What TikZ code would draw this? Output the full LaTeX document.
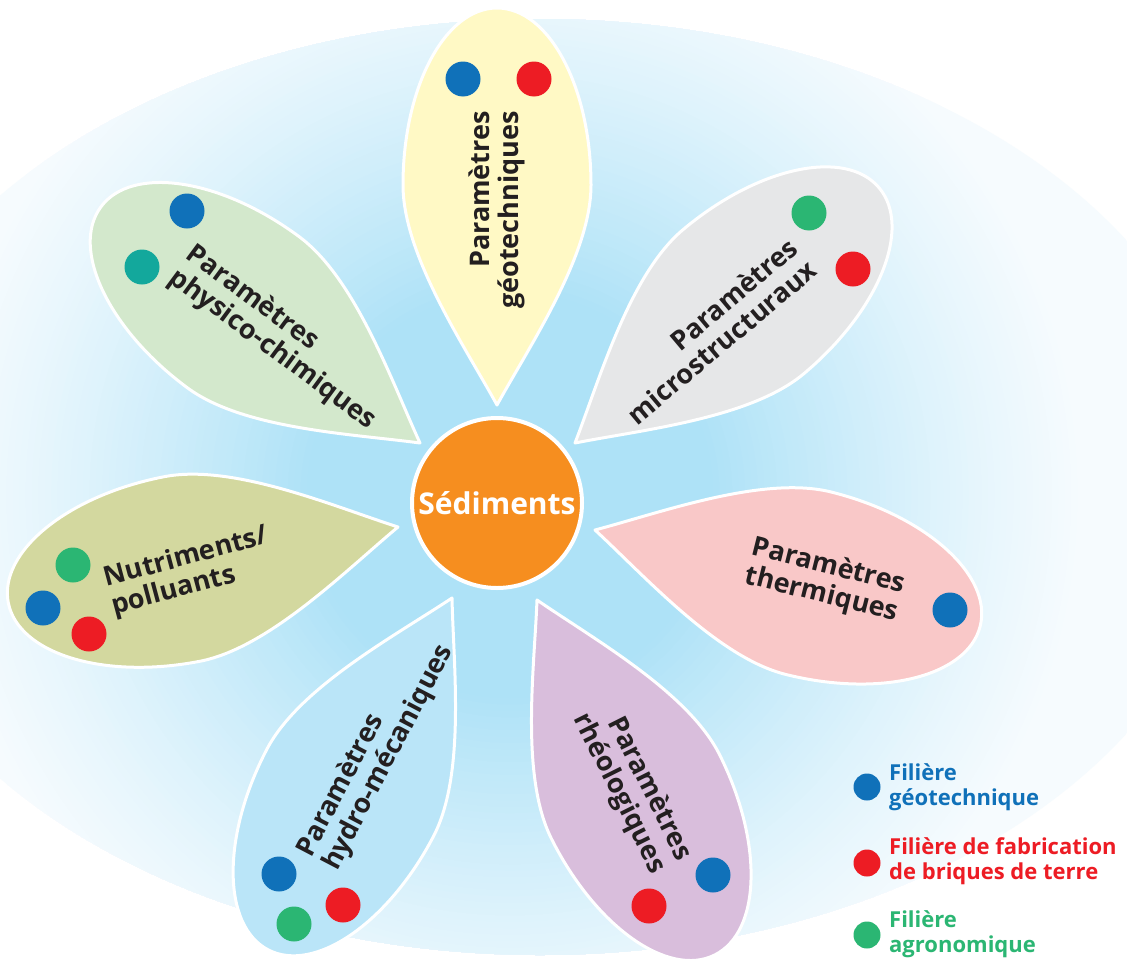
\documentclass[tikz,border=0pt]{standalone}
\usepackage{fontspec}
\setmainfont{Open Sans}
\definecolor{bgA}{HTML}{AEE2F7}
\definecolor{bgC}{HTML}{F6FBFE}
\definecolor{txt}{HTML}{231F20}
\definecolor{cblue}{HTML}{1071B9}
\definecolor{cred}{HTML}{ED1C24}
\definecolor{cgreen}{HTML}{2BB673}
\definecolor{cteal}{HTML}{13A89C}
\definecolor{corange}{HTML}{F68E1F}
\definecolor{pyellow}{HTML}{FFF9C5}
\definecolor{pgray}{HTML}{E6E7E8}
\definecolor{ppink}{HTML}{F9C8C8}
\definecolor{ppurple}{HTML}{D9BEDC}
\definecolor{pblue}{HTML}{BAE5F8}
\definecolor{polive}{HTML}{D3D89F}
\definecolor{pgreen}{HTML}{D3E8CC}
\newcommand\drawpetal[4]{%
  \begin{scope}[shift={(#1,#2)}, rotate=#3]
    \path[petalline, fill=#4] (0,0) .. controls (60,33) and (150,94) .. (220,94)
      .. controls (318,94) and (397,52) .. (397,0)
      .. controls (397,-52) and (318,-94) .. (220,-94)
      .. controls (150,-94) and (60,-33) .. (0,0) -- cycle;
  \end{scope}}
\tikzset{
  petalline/.style={draw=white, line width=3pt, line join=round},
  ptext/.style={font=\bfseries\fontsize{27}{29}\selectfont, text=txt, inner sep=0pt},
  dotA/.style={circle, inner sep=0pt, minimum size=35pt},
  dotL/.style={circle, inner sep=0pt, minimum size=27pt},
  ltext/.style={font=\bfseries\fontsize{22}{25}\selectfont, inner sep=0pt, anchor=west, align=left}
}
\begin{document}
\begin{tikzpicture}[x=1pt, y=-1pt]
\useasboundingbox (0,0) rectangle (1127,961);
\fill[white] (0,0) rectangle (1127,961);
% background glow
\begin{scope}
  \clip (540,487) ellipse [x radius=690, y radius=468];
  \fill[bgC] (-10,-10) rectangle (1140,970);
  \foreach \i in {0,...,59}{
    \pgfmathsetmacro\rr{580*(1-0.65*\i/59)}
    \pgfmathsetmacro\pp{100*(\i/59)^1.2}
    \fill[bgA!\pp!bgC] (510,495) circle [radius=\rr];
  }
\end{scope}
% petals
\drawpetal{497}{405}{90}{pyellow}
\drawpetal{575}{443}{40}{pgray}
\drawpetal{595}{530}{-14}{ppink}
\drawpetal{537}{600}{-63.4}{ppurple}
\drawpetal{452}{598}{-117.6}{pblue}
\drawpetal{398}{527}{191}{polive}
\drawpetal{420}{443}{143.5}{pgreen}
% centre
\node[circle, minimum size=170pt, inner sep=0pt, fill=corange, draw=white, line width=4pt,
      font=\bfseries\fontsize{30}{32}\selectfont, text=white] (sed) at (497,503) {Sédiments};
% petal texts
\node[ptext, rotate=90, align=right] (geo) at (497,210) {Paramètres\\géotechniques};
\node[ptext, rotate=40, align=right] (micro) at (712,331) {Paramètres\\microstructuraux};
\node[ptext, rotate=-14, align=center] (therm) at (825,581) {Paramètres\\thermiques};
\node[ptext, rotate=-63.4, align=right] (rheo) at (632,787) {Paramètres\\rhéologiques};
\node[ptext, rotate=62.4, align=left] (hydro) at (376,751) {Paramètres\\hydro-mécaniques};
\node[ptext, rotate=15, align=left] (nutri) at (190,572) {Nutriments/\\polluants};
\node[ptext, rotate=-36.5, align=left] (phys) at (281,338) {Paramètres\\physico-chimiques};
% dots
\node[dotA, fill=cblue] (g1) at (463,79) {};
\node[dotA, fill=cred] (g2) at (534,79) {};
\node[dotA, fill=cgreen] (m1) at (809,213) {};
\node[dotA, fill=cred] (m2) at (853,269) {};
\node[dotA, fill=cblue] (t1) at (950,610) {};
\node[dotA, fill=cblue] (r1) at (713,875) {};
\node[dotA, fill=cred] (r2) at (649,906) {};
\node[dotA, fill=cblue] (h1) at (279,874) {};
\node[dotA, fill=cred] (h2) at (343,905) {};
\node[dotA, fill=cgreen] (h3) at (294,924) {};
\node[dotA, fill=cgreen] (n1) at (73,565) {};
\node[dotA, fill=cblue] (n2) at (43,608) {};
\node[dotA, fill=cred] (n3) at (89,634) {};
\node[dotA, fill=cblue] (p1) at (187,211) {};
\node[dotA, fill=cteal] (p2) at (142,267) {};
% legend
\node[dotL, fill=cblue] (lb) at (867,787) {};
\node[dotL, fill=cred] (lr) at (867,863) {};
\node[dotL, fill=cgreen] (lg) at (867,935) {};
\node[ltext, text=cblue] (lbt) at (889,787) {Filière\\géotechnique};
\node[ltext, text=cred] (lrt) at (889,861) {Filière de fabrication\\de briques de terre};
\node[ltext, text=cgreen] (lgt) at (889,934) {Filière\\agronomique};
\end{tikzpicture}
\end{document}
